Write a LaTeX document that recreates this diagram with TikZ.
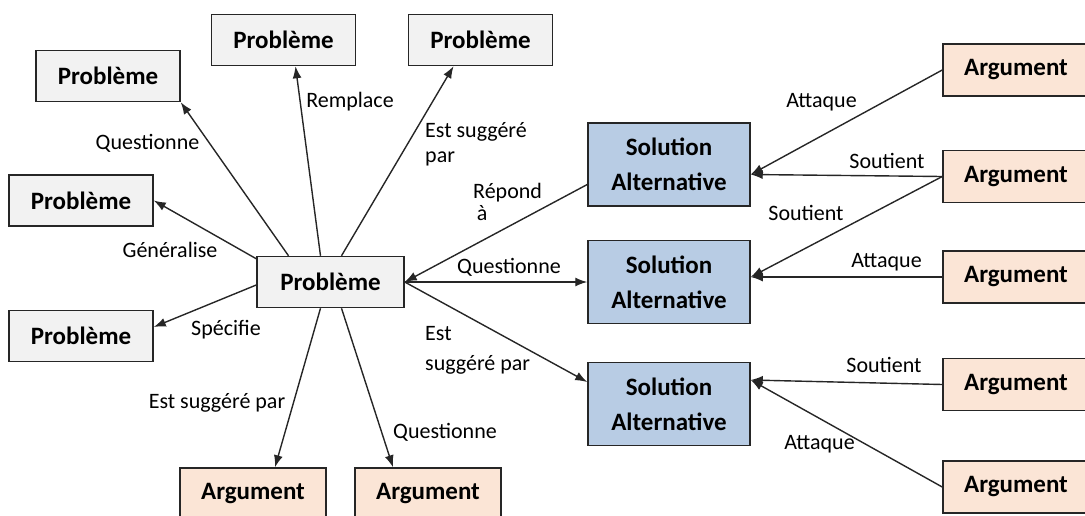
\documentclass[tikz,border=0pt]{standalone}
\usepackage{fontspec}
\setmainfont{Carlito}
\usetikzlibrary{positioning,arrows.meta}
\definecolor{probfill}{HTML}{F2F2F2}
\definecolor{argfill}{HTML}{FBE5D6}
\definecolor{solfill}{HTML}{B8CCE4}
\definecolor{edge}{HTML}{262626}

\begin{document}
\begin{tikzpicture}
  [x=1pt, y=-1pt,
   card/.style={draw=edge, line width=1.5pt, inner sep=0pt, font=\fontsize{25}{35}\selectfont\bfseries},
   prob/.style={card, fill=probfill, minimum width=144pt, minimum height=51pt},
   arg/.style={card, fill=argfill, minimum width=146pt, minimum height=52pt},
   sol/.style={card, fill=solfill, minimum width=162pt, minimum height=83pt, align=center},
   lab/.style={inner sep=0pt, font=\fontsize{22}{25}\selectfont},
   link/.style={draw=edge, line width=1.4pt, -{Latex[length=12pt,width=9pt]}}]
  \useasboundingbox (0,0) rectangle (1085,515);
  \clip (0,0) rectangle (1085,515);

  \node [prob, minimum width=147pt] (centre) at (330.5,282) {Problème};
  \node [prob] (pq) at (108,76) {Problème};
  \node [prob] (pg) at (81,200.5) {Problème};
  \node [prob] (ps) at (81,336) {Problème};
  \node [prob] (pr) at (283.5,40) {Problème};
  \node [prob] (pe) at (480.5,40) {Problème};
  \node [arg] (ab1) at (253,494) {Argument};
  \node [arg] (ab2) at (428,494) {Argument};
  \node [sol] (sa1) at (669,164.5) {Solution\\Alternative};
  \node [sol] (sa2) at (669,282) {Solution\\Alternative};
  \node [sol] (sa3) at (669,404) {Solution\\Alternative};
  \node [arg] (ar1) at (1016,70) {Argument};
  \node [arg] (ar2) [below=53pt of ar1] {Argument};
  \node [arg] (ar3) [below=47pt of ar2] {Argument};
  \node [arg] (ar4) [below=54pt of ar3] {Argument};
  \node [arg] (ar5) [below=49pt of ar4] {Argument};

  \draw [link] ([xshift=-42pt]centre.north) -- (pq.south east);
  \draw [link] ([xshift=-10pt]centre.north) -- ([xshift=12pt]pr.south);
  \draw [link] ([xshift=11pt]centre.north) -- ([xshift=-27pt]pe.south);
  \draw [link] ([yshift=-3pt]centre.north west) -- (pg.east);
  \draw [link] ([yshift=-3pt]centre.west) -- ([yshift=9pt]ps.east);
  \draw [link] ([xshift=-10pt]centre.south) -- ([xshift=22pt]ab1.north);
  \draw [link] ([xshift=11pt]centre.south) -- ([xshift=-35pt]ab2.north);
  \draw [link] ([yshift=-20pt]sa1.west) -- (centre.east);
  \draw [link] (centre.east) -- (sa2.west);
  \draw [link] (centre.east) -- ([yshift=22pt]sa3.west);
  \draw [link] (ar1.west) -- ([yshift=-10pt]sa1.east);
  \draw [link] (ar2.west) -- ([yshift=-10pt]sa1.east);
  \draw [link] (ar2.west) -- ([yshift=5pt]sa2.east);
  \draw [link] (ar3.west) -- ([yshift=5pt]sa2.east);
  \draw [link] (ar4.west) -- ([yshift=24pt]sa3.east);
  \draw [link] (ar5.west) -- ([yshift=24pt]sa3.east);

  \node [lab] (t1) at (147.5,143) {Questionne};
  \node [lab] (t2) at (350,102) {Remplace};
  \node [lab, align=left, anchor=west] (t3) at (425,144) {Est suggéré\\par};
  \node [lab, align=left, anchor=west] (t4) at (473,202) {Répond\\[-3pt]\,à};
  \node [lab] (t5) at (170,250) {Généralise};
  \node [lab] (t6) at (226,330) {Spécifie};
  \node [lab] (t7) at (217,403) {Est suggéré par};
  \node [lab] (t8) at (445,432) {Questionne};
  \node [lab, anchor=west] (t9) at (457,267) {Questionne};
  \node [lab, align=left, anchor=west] (t10) at (425,350) {Est\\[5pt]suggéré par};
  \node [lab] (t11) at (821.5,102) {Attaque};
  \node [lab] (t12) at (887,161) {Soutient};
  \node [lab] (t13) at (806,213) {Soutient};
  \node [lab] (t14) at (886.5,262) {Attaque};
  \node [lab] (t15) at (884,365) {Soutient};
  \node [lab] (t16) at (819.5,444) {Attaque};
\end{tikzpicture}
\end{document}
